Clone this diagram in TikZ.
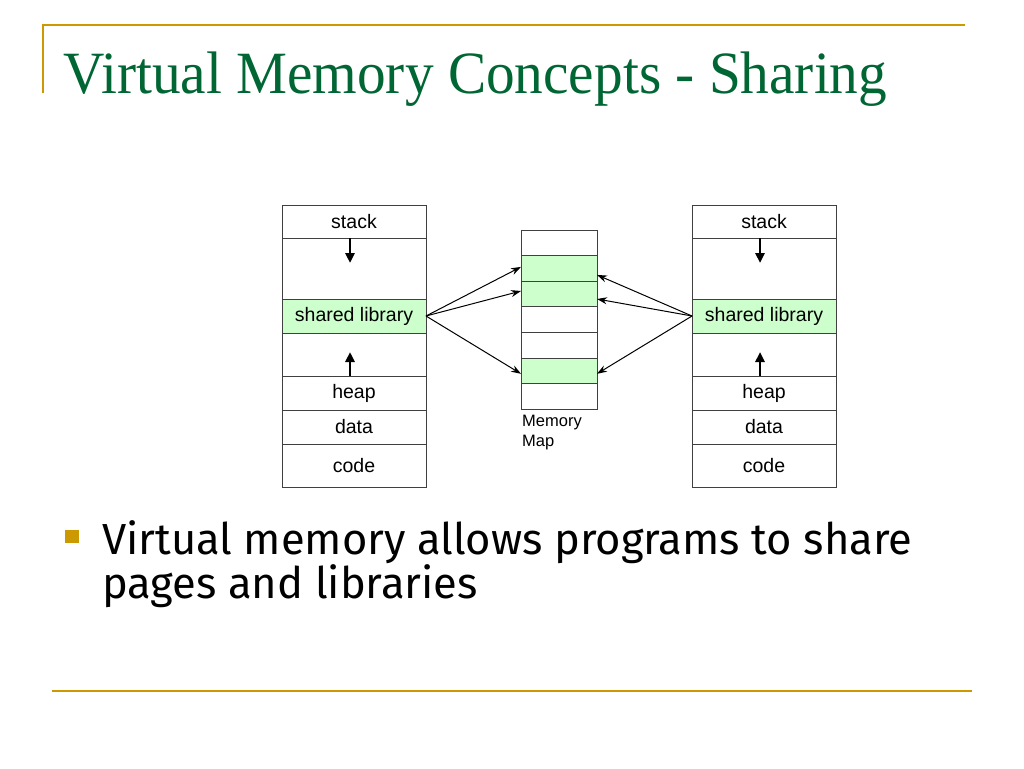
\documentclass[tikz,border=0pt]{standalone}
\usepackage{fontspec}
\setmainfont{Liberation Serif}
\newfontfamily\arialfont{Liberation Sans}
\newfontfamily\bulletfont{Fira Sans}
\usetikzlibrary{positioning,arrows.meta}
\definecolor{titlegreen}{RGB}{0,102,51}
\definecolor{rulegold}{RGB}{204,153,0}
\definecolor{sharegreen}{RGB}{204,255,204}

\begin{document}
\begin{tikzpicture}[x=1pt, y=-1pt, node distance=0pt,
    cell/.style={draw=black!75, line width=0.8pt, minimum width=144pt, inner sep=0pt, outer sep=0pt,
                 font=\arialfont\fontsize{19.5}{20}\selectfont},
    shared/.style={cell, fill=sharegreen},
    page/.style={draw=black!75, line width=0.8pt, minimum width=76pt, minimum height=25.6pt,
                 inner sep=0pt, outer sep=0pt},
    used/.style={page, fill=sharegreen},
    growarrow/.style={line width=2.6pt, -{Triangle[length=10pt, width=9pt]}},
    link/.style={line width=1pt, -{Stealth[length=10pt, width=7pt]}}]
  \useasboundingbox (0,0) rectangle (1024,768);
  % slide rules and title
  \draw[rulegold, line width=2.5pt] (42,25) -- (965,25);
  \draw[rulegold, line width=2pt] (43,25) -- (43,93);
  \draw[rulegold, line width=2.5pt] (52,691) -- (972,691);
  \node[anchor=base west, inner sep=0pt, text=titlegreen, font=\fontsize{60}{60}\selectfont] (title) at (63,93)
    {\scalebox{0.955}[1]{Virtual Memory Concepts - Sharing}};

  % left process
  \node[cell, minimum height=33pt, anchor=north] (stackL) at (354,205) {stack};
  \node[cell, minimum height=61pt, below=of stackL] (gapLa) {};
  \node[shared, minimum height=34pt, below=of gapLa] (shlibL) {shared library};
  \node[cell, minimum height=43pt, below=of shlibL] (gapLb) {};
  \node[cell, minimum height=34pt, below=of gapLb] (heapL) {heap};
  \node[cell, minimum height=34pt, below=of heapL] (dataL) {data};
  \node[cell, minimum height=43pt, below=of dataL] (codeL) {code};
  \draw[growarrow] ([xshift=-4pt]gapLa.north) -- ++(0,25);
  \draw[growarrow] ([xshift=-4pt]gapLb.south) -- ++(0,-24);

  % right process
  \node[cell, minimum height=33pt, anchor=north] (stackR) at (764,205) {stack};
  \node[cell, minimum height=61pt, below=of stackR] (gapRa) {};
  \node[shared, minimum height=34pt, below=of gapRa] (shlibR) {shared library};
  \node[cell, minimum height=43pt, below=of shlibR] (gapRb) {};
  \node[cell, minimum height=34pt, below=of gapRb] (heapR) {heap};
  \node[cell, minimum height=34pt, below=of heapR] (dataR) {data};
  \node[cell, minimum height=43pt, below=of dataR] (codeR) {code};
  \draw[growarrow] ([xshift=-4pt]gapRa.north) -- ++(0,25);
  \draw[growarrow] ([xshift=-4pt]gapRb.south) -- ++(0,-24);

  % physical memory
  \node[page, anchor=north] (m1) at (559,230) {};
  \node[used, below=of m1] (m2) {};
  \node[used, below=of m2] (m3) {};
  \node[page, below=of m3] (m4) {};
  \node[page, below=of m4] (m5) {};
  \node[used, below=of m5] (m6) {};
  \node[page, below=of m6] (m7) {};
  \node[anchor=north west, inner sep=1pt, align=left, font=\arialfont\fontsize{16.5}{20}\selectfont]
    (maplabel) at ([yshift=-5pt]m7.south west) {Memory\\Map};

  \draw[link] (shlibL.east) -- ([yshift=1.5pt]m2.west);
  \draw[link] (shlibL.east) -- ([yshift=3pt]m3.west);
  \draw[link] (shlibL.east) -- ([yshift=-3pt]m6.west);
  \draw[link] (shlibR.west) -- ([yshift=-6.5pt]m2.east);
  \draw[link] (shlibR.west) -- ([yshift=-5pt]m3.east);
  \draw[link] (shlibR.west) -- ([yshift=-3pt]m6.east);

  % bullet
  \fill[rulegold] (65,530) rectangle (79,543);
  \node[anchor=base west, inner sep=0pt, font=\bulletfont\fontsize{43.5}{43.5}\selectfont] (pointa) at (102,554)
    {Virtual memory allows programs to share};
  \node[anchor=base west, inner sep=0pt, font=\bulletfont\fontsize{43.5}{43.5}\selectfont] (pointb) at (102,598)
    {pages and libraries};
\end{tikzpicture}
\end{document}
